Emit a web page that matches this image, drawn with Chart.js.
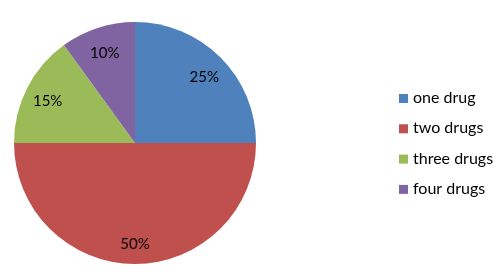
<!DOCTYPE html>
<html>
<head>
<meta charset="utf-8">
<script src="https://cdn.jsdelivr.net/npm/chart.js@4"></script>
<style>
html,body{margin:0;padding:0;background:#fff;}
#wrap{width:500px;height:274px;position:relative;}
</style>
</head>
<body>
<div id="wrap"><canvas id="c" width="500" height="274"></canvas></div>
<script>
const categories = ["one drug", "two drugs", "three drugs", "four drugs"];
const values = [25, 50, 15, 10];
const valueLabels = ["25%", "50%", "15%", "10%"];
const colors = ["#4F81BD", "#C0504D", "#9BBB59", "#8064A2"];

const FONT = "Lato, 'Liberation Sans', sans-serif";

const sliceLabels = {
  id: 'sliceLabels',
  afterDatasetsDraw(chart) {
    const ctx = chart.ctx;
    const meta = chart.getDatasetMeta(0);
    ctx.save();
    ctx.font = "15px " + FONT;
    ctx.fillStyle = "#000";
    ctx.textAlign = "center";
    ctx.textBaseline = "middle";
    meta.data.forEach((arc, i) => {
      const p = arc.getProps(['x','y','startAngle','endAngle','outerRadius'], true);
      const mid = (p.startAngle + p.endAngle) / 2;
      const r = p.outerRadius * 0.81;
      ctx.fillText(valueLabels[i], p.x + Math.cos(mid) * r, p.y + Math.sin(mid) * r + 3);
    });
    ctx.restore();
  }
};

const sideLegend = {
  id: 'sideLegend',
  afterDraw(chart) {
    const ctx = chart.ctx;
    ctx.save();
    ctx.font = "16px " + FONT;
    ctx.textBaseline = "middle";
    ctx.textAlign = "left";
    categories.forEach((name, i) => {
      const y = 98 + i * 30.3;
      ctx.fillStyle = colors[i];
      ctx.fillRect(399, y - 4, 9, 9);
      ctx.fillStyle = "#000";
      ctx.fillText(name, 413, y);
    });
    ctx.restore();
  }
};

new Chart(document.getElementById('c'), {
  type: 'pie',
  data: {
    labels: categories,
    datasets: [{
      data: values,
      backgroundColor: colors,
      borderWidth: 0
    }]
  },
  options: {
    responsive: false,
    animation: false,
    layout: { padding: { left: 14, top: 22, right: 244, bottom: 10 } },
    plugins: {
      legend: { display: false },
      tooltip: { enabled: false }
    }
  },
  plugins: [sliceLabels, sideLegend]
});
</script>
</body>
</html>
